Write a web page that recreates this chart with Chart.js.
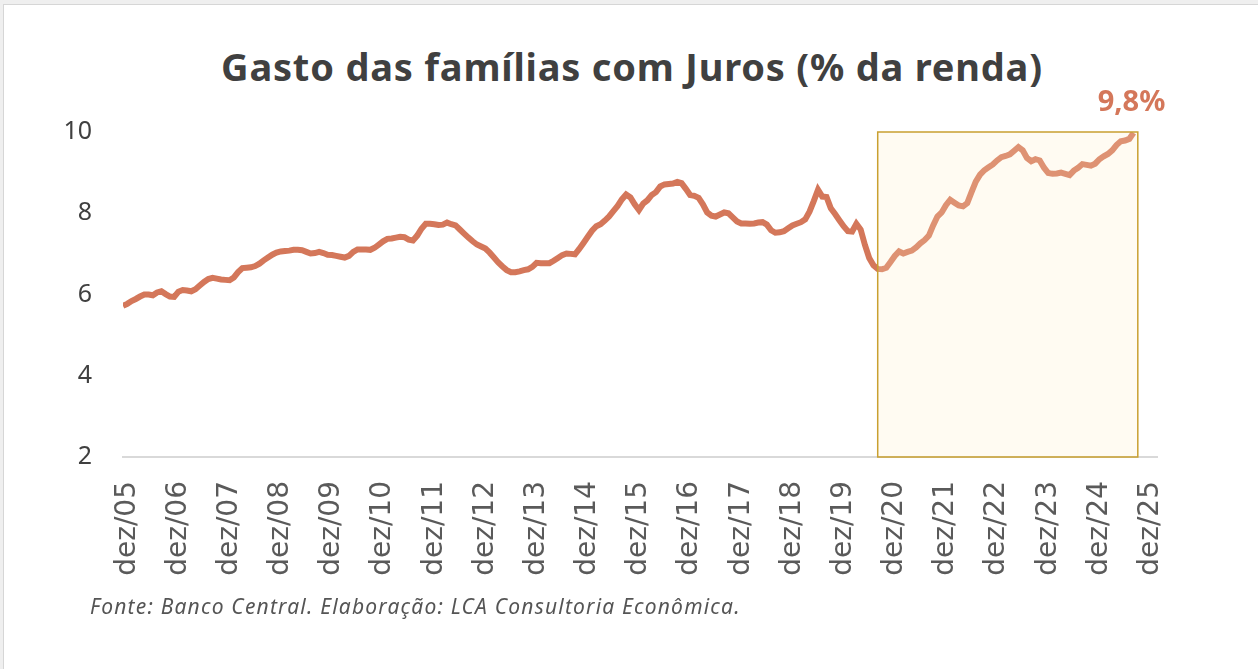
<!DOCTYPE html>
<html>
<head>
<meta charset="utf-8">
<script src="https://cdn.jsdelivr.net/npm/chart.js@4.4.1/dist/chart.umd.min.js"></script>
<style>
  html, body { margin: 0; padding: 0; width: 1258px; height: 669px; overflow: hidden; background: #efefef; }
  #panel { position: absolute; left: 3px; top: 4px; width: 1262px; height: 670px; background: #fff; border: 1px solid #d6d6d6; }
  #title { position: absolute; left: 0; top: 47px; width: 1264px; text-align: center; font: 700 38px "Noto Sans"; letter-spacing: 0.8px; line-height: 1; color: #404040; }
  #wrap { position: absolute; left: 0; top: 0; width: 1258px; height: 669px; }
  #fonte { position: absolute; left: 90px; top: 596px; font: italic 21px "Noto Sans"; letter-spacing: 1.2px; line-height: 1; color: #555; }
</style>
</head>
<body>
<div id="panel"></div>
<div id="title">Gasto das famílias com Juros (% da renda)</div>
<div id="wrap"><canvas id="chart" width="1258" height="669"></canvas></div>
<div id="fonte">Fonte: Banco Central. Elaboração: LCA Consultoria Econômica.</div>
<script>
// eixo x: um ponto por mês, o primeiro ponto fica 1 mês antes de dez/05
const tickLabels = ['dez/05','dez/06','dez/07','dez/08','dez/09','dez/10','dez/11','dez/12','dez/13','dez/14',
  'dez/15','dez/16','dez/17','dez/18','dez/19','dez/20','dez/21','dez/22','dez/23','dez/24','dez/25'];
const firstTickMonth = 1;

// gasto com juros, % da renda (mensal)
const gastoJuros = [
  5.72,5.77,5.84,5.89,5.95,6.00,6.00,5.98,6.05,6.08,6.01,5.95,
  5.94,6.07,6.11,6.10,6.08,6.13,6.22,6.31,6.38,6.41,6.39,6.37,
  6.36,6.35,6.42,6.55,6.65,6.66,6.67,6.70,6.76,6.84,6.91,6.98,
  7.03,7.06,7.07,7.08,7.10,7.10,7.09,7.05,7.01,7.02,7.05,7.02,
  6.98,6.97,6.95,6.93,6.91,6.95,7.05,7.11,7.11,7.11,7.10,7.15,
  7.23,7.31,7.37,7.38,7.40,7.42,7.41,7.35,7.33,7.45,7.62,7.74,
  7.74,7.73,7.71,7.72,7.77,7.73,7.70,7.60,7.50,7.40,7.31,7.23,
  7.18,7.13,7.03,6.91,6.79,6.69,6.60,6.55,6.55,6.57,6.60,6.62,
  6.68,6.78,6.77,6.77,6.77,6.83,6.90,6.97,7.01,7.00,6.99,7.12,
  7.27,7.42,7.57,7.68,7.73,7.82,7.92,8.05,8.18,8.34,8.46,8.39,
  8.22,8.08,8.24,8.32,8.45,8.52,8.66,8.71,8.72,8.73,8.77,8.74,
  8.60,8.45,8.43,8.38,8.22,8.02,7.94,7.92,7.97,8.02,8.00,7.90,
  7.80,7.75,7.75,7.74,7.75,7.77,7.78,7.72,7.58,7.52,7.53,7.56,
  7.63,7.70,7.74,7.78,7.85,8.04,8.30,8.58,8.41,8.40,8.12,7.98,
  7.83,7.68,7.56,7.55,7.74,7.60,7.22,6.90,6.72,6.63,6.62,6.66,
  6.80,6.95,7.06,7.01,7.05,7.08,7.16,7.26,7.34,7.45,7.70,7.92,
  8.02,8.20,8.33,8.26,8.19,8.17,8.25,8.52,8.78,8.95,9.06,9.13,
  9.20,9.30,9.38,9.41,9.45,9.54,9.63,9.55,9.36,9.28,9.33,9.30,
  9.12,8.99,8.97,8.98,9.00,8.97,8.94,9.05,9.12,9.21,9.19,9.17,
  9.22,9.33,9.40,9.46,9.55,9.68,9.77,9.79,9.83,9.98
];

// período destacado (meses)
const highlightFrom = 177;
const highlightTo = 238;
const lastLabel = '9,8%';

const destaque = {
  id: 'destaque',
  afterDatasetsDraw(chart) {
    const { ctx, scales: { x, y } } = chart;
    const x0 = x.getPixelForValue(highlightFrom), x1 = x.getPixelForValue(highlightTo);
    const yTop = y.getPixelForValue(y.max), yBot = y.getPixelForValue(y.min);
    ctx.save();
    ctx.fillStyle = 'rgba(255,238,198,0.23)';
    ctx.fillRect(x0, yTop, x1 - x0, yBot - yTop);
    ctx.strokeStyle = '#c9a030';
    ctx.lineWidth = 1.5;
    ctx.strokeRect(x0, yTop, x1 - x0, yBot - yTop);

    const last = chart.getDatasetMeta(0).data[gastoJuros.length - 1];
    ctx.fillStyle = '#d4775a';
    ctx.font = '700 29px "Noto Sans"';
    ctx.textAlign = 'center';
    ctx.textBaseline = 'alphabetic';
    ctx.fillText(lastLabel, last.x - 2, last.y - 22);
    ctx.restore();
  }
};

new Chart(document.getElementById('chart'), {
  type: 'line',
  data: {
    datasets: [{
      data: gastoJuros.map((v, i) => ({ x: i, y: v })),
      borderColor: '#d4775a',
      borderWidth: 6,
      pointRadius: 0,
      tension: 0,
      fill: false
    }]
  },
  options: {
    responsive: false,
    animation: false,
    layout: { padding: { left: 60, top: 132, right: 101, bottom: 62 } },
    plugins: { legend: { display: false }, tooltip: { enabled: false } },
    scales: {
      x: {
        type: 'linear', min: 0, max: 242.5,
        afterBuildTicks: ax => { ax.ticks = tickLabels.map((_, k) => ({ value: firstTickMonth + 12 * k })); },
        afterFit: ax => { ax.height = 150; },
        grid: { display: true, color: 'transparent', drawTicks: false },
        border: { display: true, color: '#d9d9d9', width: 2 },
        ticks: {
          autoSkip: false, maxRotation: 90, minRotation: 90, padding: 24,
          color: '#5a5a5a', font: { family: 'DejaVu Sans', size: 28 },
          callback: (v, i) => tickLabels[i]
        }
      },
      y: {
        min: 2, max: 10,
        afterFit: ax => { ax.width = 63; },
        grid: { display: false, drawTicks: false },
        border: { display: false },
        ticks: { stepSize: 2, padding: 31, color: '#404040', font: { family: 'Noto Sans', size: 25 } }
      }
    }
  },
  plugins: [destaque]
});
</script>
</body>
</html>
